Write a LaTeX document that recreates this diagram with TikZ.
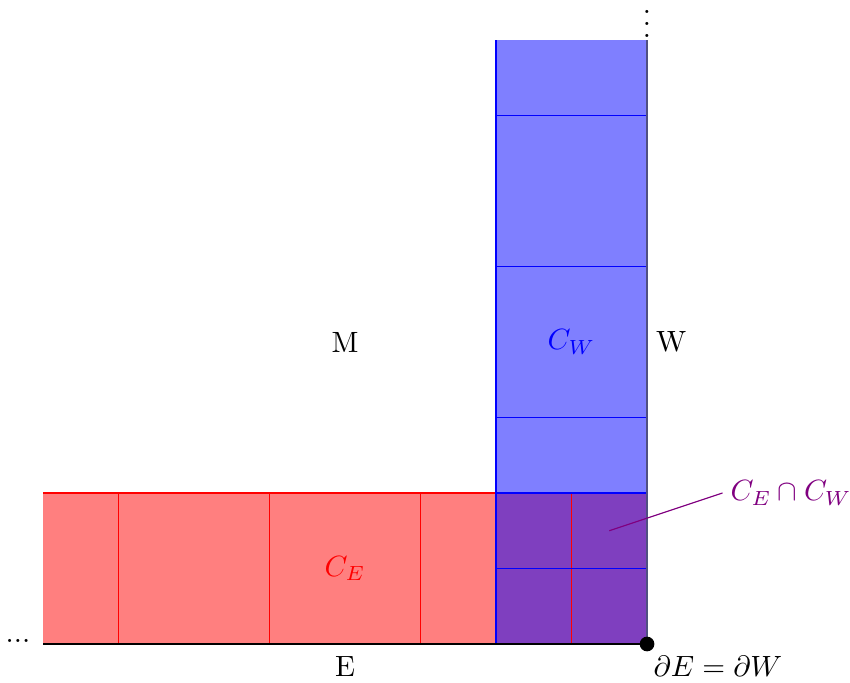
\documentclass[tikz,border=0pt]{standalone}
\usepackage{amsmath}
\definecolor{edgecol}{RGB}{80,80,130}
\begin{document}
\begin{tikzpicture}[x=1.81cm,y=1.81cm,
  lbl/.style={inner sep=0pt},
  ptr/.style={violet}]
\useasboundingbox (-4.285,-0.252) rectangle (1.344,4.265);
% fills
\fill[red,opacity=0.5] (-4,0) rectangle (0,1);
\fill[blue,opacity=0.5] (-1,0) rectangle (0,4);
% red grid
\foreach \x in {-3.5,-2.5,-1.5,-1,-0.5} \draw[red] (\x,0) -- (\x,1);
\draw[red] (-4,1) -- (0,1);
% blue grid
\foreach \y in {0.5,1,1.5,2.5,3.5} \draw[blue] (-1,\y) -- (0,\y);
\draw[blue] (-1,0) -- (-1,4);
% boundaries
\coordinate (O) at (0,0);
\coordinate (Wl) at (-4,0);
\coordinate (Wt) at (0,4);
\draw[black] (Wl) -- (O);
\draw[edgecol,line width=0.5pt] (O) -- (Wt);
\fill[black] (O) circle (2.5pt);
% labels
\node[lbl] (M) at (-2,2) {M};
\node[lbl] (W) at (0.16,2) {W};
\node[lbl,blue] (CW) at (-0.5,2) {$C_W$};
\node[lbl,red] (CE) at (-2,0.5) {$C_E$};
\node[lbl] (E) at (-2,-0.146) {E};
\node[lbl] (dE) at (0.47,-0.146) {$\partial E=\partial W$};
\node[lbl] (ldots) at (-4.166,0.02) {...};
\node[lbl] (vdots) at (0,4.166) {$\vdots$};
\coordinate (ptA) at (-0.25,0.75);
\node[lbl,violet,anchor=west] (CEW) at (0.55,1) {$C_E\cap C_W$};
\draw[ptr] (ptA) -- (0.5,1);
\end{tikzpicture}
\end{document}
